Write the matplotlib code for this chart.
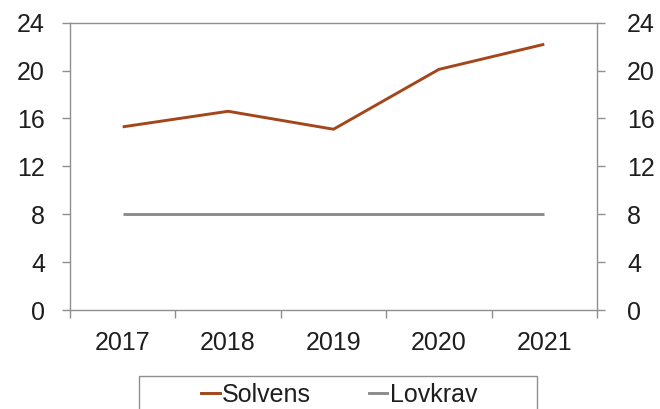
import matplotlib
matplotlib.use("Agg")
import matplotlib.pyplot as plt
from matplotlib.patches import Rectangle
from matplotlib.lines import Line2D
import matplotlib.transforms as mtrans
import numpy as np

plt.rcParams['font.family'] = ['Liberation Sans', 'DejaVu Sans']

years = ["2017", "2018", "2019", "2020", "2021"]
solvens = [15.3, 16.6, 15.1, 20.1, 22.2]
lovkrav = [8, 8, 8, 8, 8]
yticks = [0, 4, 8, 12, 16, 20, 24]

c_solv = "#A3461B"
c_lov = "#8C8C8C"
c_grid = "#8F8F8F"
c_text = "#1E1E1E"
fs = 18

fig = plt.figure(figsize=(6.6, 4.09), dpi=100)
ax = fig.add_axes([70/660, 1-310/409, (597-70)/660, (310-22.7)/409])
x = np.arange(len(years))
ax.plot(x, solvens, color=c_solv, lw=2.1, solid_capstyle='butt')
ax.plot(x, lovkrav, color=c_lov, lw=2.1, solid_capstyle='butt')
ax.set_xlim(-0.5, len(years)-0.5)
ax.set_ylim(0, 24)
ax.set_yticks(yticks)
ax.set_xticks(x)
ax.set_xticklabels(years)
ax.set_xticks(np.arange(-0.5, len(years)), minor=True)
for s in ax.spines.values():
    s.set_color(c_grid)
    s.set_linewidth(1.0)
ax.tick_params(axis='x', which='major', length=0, pad=15, labelsize=fs, labelcolor=c_text)
ax.tick_params(axis='x', which='minor', length=6, width=1, color=c_grid, direction='out')
ax.tick_params(axis='y', which='major', length=6, width=1, color=c_grid, direction='out',
               left=True, right=True, labelleft=True, labelright=True,
               labelsize=fs, labelcolor=c_text, pad=12)
off = mtrans.ScaledTranslation(5/100, 0, fig.dpi_scale_trans)
for t in ax.yaxis.get_major_ticks():
    t.label2.set_transform(t.label2.get_transform() + off)

rect = Rectangle((139/660, 1-420/409), (537-139)/660, (420-376)/409,
                 transform=fig.transFigure, fill=False, edgecolor=c_grid, lw=1.0)
fig.patches.append(rect)
handles = [Line2D([], [], color=c_solv, lw=2.1), Line2D([], [], color=c_lov, lw=2.1)]
fig.legend(handles, ["Solvens", "Lovkrav"], loc='center', bbox_to_anchor=(339/660, 1-395/409),
           ncol=2, frameon=False, fontsize=fs, handlelength=0.75, handletextpad=0.1,
           columnspacing=2.3, labelcolor=c_text)

fig.savefig("out.png", dpi=100)
